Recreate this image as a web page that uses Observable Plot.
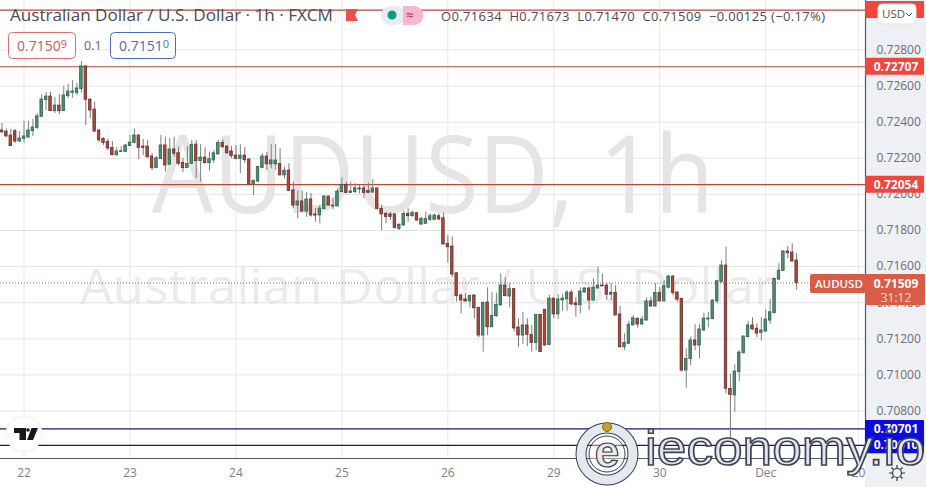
<!DOCTYPE html>
<html><head><meta charset="utf-8">
<script src="https://cdn.jsdelivr.net/npm/d3@7"></script>
<script src="https://cdn.jsdelivr.net/npm/@observablehq/plot@0.6"></script>
<style>
html,body{margin:0;padding:0;background:#fff;overflow:hidden}
#wrap{position:relative;width:926px;height:487px;overflow:hidden;font-family:"Open Sans",sans-serif}
#wrap>svg{position:absolute;left:0;top:0}
</style></head><body><div id="wrap"></div>
<script>
// hourly candles, oldest first; index 5 is the first bar of the 22nd
const opens=[.72354,.72348,.72326,.72350,.72293,.72306,.72315,.72350,.72367,.72428,
.72522,.72542,.72461,.72492,.72461,.72544,.72563,.72561,.72583,.72709,
.72524,.72470,.72354,.72306,.72291,.72258,.72217,.72234,.72234,.72267,
.72284,.72326,.72265,.72265,.72210,.72145,.72195,.72271,.72164,.72249,
.72228,.72175,.72145,.72169,.72276,.72184,.72204,.72173,.72188,.72221,
.72286,.72265,.72238,.72215,.72197,.72215,.72193,.72055,.72071,.72147,
.72210,.72166,.72166,.72169,.72105,.72132,.72022,.71938,.71961,.71905,
.71972,.71889,.71883,.71918,.71988,.71933,.71933,.72012,.72053,.72007,
.72012,.72027,.72033,.72018,.72010,.72033,.71920,.71892,.71889,.71889,
.71809,.71828,.71892,.71879,.71896,.71833,.71837,.71859,.71859,.71879,
.71868,.71726,.71711,.71563,.71440,.71418,.71407,.71440,.71372,.71218,
.71401,.71264,.71325,.71384,.71495,.71434,.71475,.71263,.71218,.71274,
.71222,.71176,.71333,.71361,.71165,.71423,.71335,.71412,.71419,.71456,
.71397,.71386,.71456,.71479,.71412,.71479,.71495,.71495,.71444,.71455,
.71335,.71153,.71172,.71274,.71311,.71279,.71301,.71407,.71379,.71455,
.71407,.71483,.71545,.71456,.71422,.71024,.71087,.71191,.71163,.71246,
.71307,.71309,.71407,.71514,.71606,.70923,.70886,.71015,.71120,.71209,
.71274,.71256,.71233,.71240,.71301,.71342,.71528,.71575,.71684,.71678,.71634];
const highs=[.72393,.72362,.72359,.72359,.72348,.72405,.72405,.72415,.72448,.72553,
.72565,.72565,.72538,.72553,.72598,.72609,.72631,.72616,.72735,.72712,
.72531,.72511,.72358,.72315,.72306,.72293,.72261,.72265,.72276,.72326,
.72363,.72330,.72304,.72299,.72227,.72210,.72326,.72317,.72310,.72317,
.72261,.72199,.72265,.72299,.72299,.72276,.72258,.72234,.72243,.72299,
.72302,.72271,.72265,.72271,.72276,.72260,.72199,.72081,.72155,.72225,
.72234,.72276,.72276,.72253,.72151,.72170,.72068,.72018,.72018,.72012,
.72005,.71922,.71938,.71994,.71992,.71977,.72031,.72092,.72068,.72068,
.72059,.72049,.72044,.72062,.72081,.72035,.71938,.71901,.71901,.71892,
.71837,.71907,.71920,.71907,.71901,.71874,.71901,.71892,.71892,.71892,
.71896,.71772,.71763,.71565,.71449,.71449,.71442,.71443,.71375,.71403,
.71483,.71458,.71453,.71560,.71538,.71505,.71479,.71311,.71347,.71311,
.71274,.71335,.71335,.71363,.71440,.71425,.71445,.71445,.71468,.71468,
.71430,.71483,.71483,.71483,.71532,.71597,.71560,.71505,.71505,.71495,
.71379,.71228,.71297,.71329,.71316,.71325,.71427,.71430,.71505,.71484,
.71523,.71551,.71551,.71462,.71424,.71145,.71209,.71278,.71278,.71342,
.71347,.71416,.71523,.71634,.71707,.71006,.71056,.71135,.71215,.71297,
.71316,.71283,.71316,.71361,.71418,.71536,.71616,.71686,.71711,.71726,.71673];
const lows=[.72337,.72315,.72265,.72282,.72287,.72282,.72310,.72321,.72359,.72426,
.72465,.72459,.72448,.72443,.72459,.72531,.72533,.72548,.72561,.72382,
.72420,.72344,.72287,.72271,.72243,.72214,.72210,.72232,.72232,.72265,
.72280,.72193,.72215,.72199,.72132,.72143,.72193,.72123,.72160,.72206,
.72160,.72121,.72143,.72166,.72088,.72068,.72169,.72128,.72171,.72219,
.72254,.72221,.72199,.72192,.72116,.72171,.72049,.71994,.72064,.72142,
.72132,.72142,.72132,.72103,.72086,.72016,.71920,.71865,.71901,.71874,
.71874,.71846,.71837,.71915,.71933,.71915,.71931,.72010,.72003,.72005,
.72005,.72003,.71976,.72005,.72005,.71915,.71800,.71837,.71855,.71809,
.71800,.71822,.71846,.71874,.71851,.71828,.71833,.71851,.71855,.71855,
.71721,.71619,.71538,.71403,.71338,.71403,.71372,.71311,.71206,.71126,
.71218,.71261,.71320,.71383,.71434,.71372,.71237,.71153,.71168,.71157,
.71126,.71135,.71124,.71159,.71161,.71311,.71307,.71353,.71353,.71384,
.71320,.71338,.71453,.71357,.71408,.71475,.71488,.71412,.71412,.71327,
.71150,.71135,.71168,.71272,.71259,.71275,.71299,.71375,.71375,.71401,
.71403,.71477,.71440,.71403,.71015,.70926,.71052,.71135,.71089,.71242,
.71261,.71305,.71394,.71508,.70895,.70640,.70793,.70963,.71117,.71205,
.71246,.71205,.71187,.71237,.71279,.71338,.71523,.71573,.71643,.71624,.71470];
const closes=[.72344,.72321,.72267,.72293,.72310,.72321,.72354,.72371,.72432,.72526,
.72542,.72461,.72492,.72461,.72548,.72570,.72570,.72587,.72709,.72524,
.72465,.72348,.72299,.72284,.72254,.72217,.72238,.72239,.72271,.72287,
.72326,.72258,.72258,.72206,.72145,.72200,.72271,.72160,.72249,.72225,
.72169,.72145,.72169,.72275,.72184,.72204,.72173,.72195,.72228,.72284,
.72261,.72228,.72212,.72197,.72215,.72189,.72055,.72075,.72151,.72210,
.72166,.72188,.72188,.72105,.72132,.72018,.71938,.71961,.71905,.71972,
.71883,.71883,.71922,.71988,.71938,.71938,.72016,.72053,.72007,.72016,
.72034,.72033,.72007,.72009,.72033,.71920,.71889,.71874,.71874,.71813,
.71832,.71892,.71879,.71898,.71855,.71863,.71863,.71879,.71883,.71861,
.71722,.71707,.71556,.71436,.71412,.71407,.71438,.71369,.71218,.71399,
.71264,.71327,.71388,.71495,.71436,.71475,.71257,.71218,.71274,.71222,
.71176,.71333,.71126,.71163,.71423,.71335,.71418,.71423,.71456,.71390,
.71386,.71462,.71479,.71412,.71483,.71495,.71490,.71444,.71455,.71329,
.71153,.71178,.71278,.71314,.71279,.71307,.71407,.71379,.71455,.71407,
.71491,.71545,.71453,.71418,.71024,.71089,.71191,.71163,.71252,.71312,
.71312,.71412,.71519,.71606,.70923,.70890,.71019,.71124,.71213,.71274,
.71252,.71229,.71246,.71307,.71347,.71532,.71578,.71684,.71674,.71628,.71509];

const priceTicks=[.728,.726,.724,.722,.72,.718,.716,.714,.712,.71,.708];
const dayTicks=[5,29,53,77,101,125,149,173,194];
const dayLabels=["22","23","24","25","26","29","30","Dec","20"];
const redLevels=[.73021,.72707,.72054];
const blueLevels=[.70701,.70610];
const lastClose=.71509;
const ohlcText="O0.71634  H0.71673  L0.71470  C0.71509  −0.00125 (−0.17%)";

const candles=opens.map((o,i)=>({i,o,h:highs[i],l:lows[i],c:closes[i]}));
const up="#4f8c72",down="#a64a3e";
const W=926,H=487,panel=61,bottom=29;

const wrap=document.getElementById("wrap");

// watermark + price panel sit behind the chart
const back=d3.create("svg").attr("width",W).attr("height",H);
back.append("rect").attr("x",W-panel).attr("y",0).attr("width",panel).attr("height",H).attr("fill","#eef0f4");
back.append("text").text("AUDUSD, 1h").attr("x",152).attr("y",213).attr("font-size",108).attr("fill","#e5e5e5")
 .attr("textLength",562).attr("lengthAdjust","spacingAndGlyphs");
back.append("text").text("Australian Dollar / U.S. Dollar").attr("x",80).attr("y",304).attr("font-size",49).attr("fill","#ebebeb")
 .attr("textLength",695).attr("lengthAdjust","spacingAndGlyphs");
wrap.append(back.node());

const chart=Plot.plot({
  width:W,height:H,marginLeft:0,marginTop:0,marginRight:panel,marginBottom:bottom,
  style:{background:"transparent",fontFamily:"'Open Sans',sans-serif",fontSize:"12px",color:"#6a6d78"},
  x:{type:"linear",domain:[-0.33,195.6],axis:null},
  y:{type:"linear",domain:[.70537,.73074],axis:null},
  marks:[
    Plot.ruleY(priceTicks,{stroke:"#e4e4e6",strokeWidth:1}),
    Plot.ruleX(dayTicks,{stroke:"#e8e8ea",strokeWidth:1}),
    Plot.ruleY([lastClose],{stroke:"#a8564a",strokeWidth:1,strokeDasharray:"1 2"}),
    Plot.ruleY(redLevels,{stroke:"#b5493c",strokeWidth:1.2}),
    Plot.ruleY(blueLevels,{stroke:"#1c1670",strokeWidth:1.2}),
    Plot.ruleX(candles,{x:"i",y1:"l",y2:"h",strokeWidth:1,stroke:d=>d.c>=d.o?"#71897d":"#8b726d"}),
    Plot.rect(candles,{x1:d=>d.i-.29,x2:d=>d.i+.29,y1:"o",y2:"c",
      fill:d=>d.c>=d.o?up:down,stroke:d=>d.c>=d.o?"#2c5a46":"#5e2a24",strokeWidth:.7}),
    Plot.axisY(priceTicks,{anchor:"right",tickSize:0,tickPadding:11,tickFormat:d3.format(".5f"),fill:"#6a6d78",label:null,fontSize:12}),
    Plot.axisX(dayTicks,{anchor:"bottom",tickSize:0,tickPadding:10,tickFormat:(d,i)=>dayLabels[i],fill:"#7d8088",label:null,fontSize:12}),
    Plot.ruleY([.70537],{stroke:"#55575e",strokeWidth:1.2}),
    Plot.ruleX([195.6],{y1:.73074,y2:.70537,stroke:"#55575e",strokeWidth:1.2})
  ]
});
wrap.append(chart);
const yS=chart.scale("y");

const over=d3.create("svg").attr("width",W).attr("height",H).style("font-family","'Open Sans',sans-serif");
const ink="#4a4c55";
// header
over.append("text").attr("x",10).attr("y",21).attr("font-size",16).attr("fill",ink)
 .attr("textLength",323).attr("lengthAdjust","spacingAndGlyphs").text("Australian Dollar / U.S. Dollar · 1h · FXCM");
over.append("path").attr("d","M346 9h12l-3 6 3 6h-12z").attr("fill","#f0504a");
over.append("rect").attr("x",381).attr("y",6).attr("width",24).attr("height",19).attr("rx",9).attr("fill","#e9edef");
over.append("circle").attr("cx",392).attr("cy",15).attr("r",4.5).attr("fill","#109a8c");
over.append("path").attr("d","M403 6h11a9.5 9.5 0 0 1 0 19h-11z").attr("fill","#f8b6cf");
over.append("text").attr("x",406).attr("y",20).attr("font-size",14).attr("fill","#b8235f").text("≈");
over.append("text").attr("x",441).attr("y",21).attr("font-size",13).attr("fill",ink)
 .style("white-space","pre").attr("textLength",384).attr("lengthAdjust","spacing").text(ohlcText);
// bid / ask boxes
[[8.5,67,"#d9736b","#cf5a52","0.7150","9",17],[110.5,65,"#4a70b4","#4a70b4","0.7151","0",119]].forEach(([x,w,s,f,t,sup,tx])=>{
  over.append("rect").attr("x",x).attr("y",32.5).attr("width",w).attr("height",26).attr("rx",4).attr("fill","#fff").attr("stroke",s);
  const e=over.append("text").attr("x",tx).attr("y",51).attr("font-size",14).attr("fill",f);
  e.append("tspan").text(t);
  e.append("tspan").attr("dy",-3).attr("font-size",11).text(sup);
});
over.append("text").attr("x",84).attr("y",50).attr("font-size",12.5).attr("fill","#666").text("0.1");

// level badges, placed through the y scale
function badge(v,fill){
  const yy=yS.apply(v);
  over.append("rect").attr("x",W-panel).attr("y",yy-8.5).attr("width",59).attr("height",17).attr("rx",1).attr("fill",fill);
}
function badgeText(v){
  over.append("text").attr("x",W-panel+31).attr("y",yS.apply(v)+4.5).attr("text-anchor","middle").attr("font-size",12).attr("font-weight",700)
   .attr("fill","#fff").text(d3.format(".5f")(v));
}
badge(redLevels[0],"#f2453d");
badge(redLevels[1],"#f2453d");badgeText(redLevels[1]);
badge(redLevels[2],"#f2453d");badgeText(redLevels[2]);
badge(blueLevels[0],"#0b0be6");badge(blueLevels[1],"#0b0be6");
badgeText(blueLevels[0]);badgeText(blueLevels[1]);

// last price tag
const ly=yS.apply(lastClose);
over.append("rect").attr("x",810).attr("y",ly-8.5).attr("width",56).attr("height",19).attr("rx",2).attr("fill","#d95c46");
over.append("rect").attr("x",W-panel).attr("y",ly-8.5).attr("width",60).attr("height",31).attr("rx",1).attr("fill","#d95c46");
over.append("text").attr("x",815).attr("y",ly+5).attr("font-size",11.5).attr("font-weight",600).attr("fill","#fff").text("AUDUSD");
over.append("text").attr("x",W-panel+31).attr("y",ly+5).attr("text-anchor","middle").attr("font-size",12).attr("font-weight",700).attr("fill","#fff").text(d3.format(".5f")(lastClose));
over.append("text").attr("x",W-panel+31).attr("y",ly+19).attr("text-anchor","middle").attr("font-size",12).attr("fill","#fbe3dd").text("31:12");

// currency button
over.append("rect").attr("x",878).attr("y",4).attr("width",38).attr("height",20).attr("rx",4).attr("fill","#fff").attr("stroke","#e2e4ea");
over.append("text").attr("x",882).attr("y",18).attr("font-size",11.5).attr("fill","#555").text("USD");
over.append("path").attr("d","M906 13l3 3 3-3").attr("fill","none").attr("stroke","#555");

// TradingView mark
over.append("circle").attr("cx",24).attr("cy",434).attr("r",18).attr("fill","#fff").attr("stroke","#efeff1");
over.append("path").attr("d","M14 428h12v12h-6.5v-7h-5.5zM31.5 428h6.500l-5 12h-6z").attr("fill","#131722");
over.append("circle").attr("cx",28).attr("cy",430).attr("r",1.8).attr("fill","#131722");

// settings gear
over.append("circle").attr("cx",897).attr("cy",473).attr("r",4.5).attr("fill","none").attr("stroke","#333").attr("stroke-width",1.2);
over.append("path").attr("d","M897 465v3M897 478v3M889 473h3M902 473h3M891.500 467.500l2 2M900.500 476.500l2 2M891.500 478.500l2-2M900.500 469.500l2-2").attr("stroke","#333").attr("stroke-width",1.2);

// ieconomy.io overlay
const g=over.append("g");
g.append("circle").attr("cx",607).attr("cy",454).attr("r",26).attr("fill","none").attr("stroke","#3c4048").attr("stroke-width",11);
g.append("circle").attr("cx",607).attr("cy",454).attr("r",26).attr("fill","none").attr("stroke","#e4e8f0").attr("stroke-width",9);
g.append("circle").attr("cx",607).attr("cy",454).attr("r",18).attr("fill","#fff").attr("fill-opacity",.4).attr("stroke","#3c4048").attr("stroke-width",1);
g.append("text").text("e").attr("x",607).attr("y",467).attr("text-anchor","middle").attr("font-size",44).attr("font-weight",700)
 .attr("fill","#e4e8f0").attr("stroke","#3c4048").attr("stroke-width",1.2).style("font-family","'Liberation Sans',sans-serif");
g.append("circle").attr("cx",607).attr("cy",427).attr("r",4.5).attr("fill","#c9a227").attr("stroke","#7d6a22");
g.append("text").text("ieconomy.io").attr("x",645).attr("y",465).attr("font-size",50)
 .attr("fill","#dfe5f1").attr("stroke","#3f4450").attr("stroke-width",1.6).attr("textLength",280).attr("lengthAdjust","spacingAndGlyphs")
 .style("font-family","'Liberation Sans',sans-serif");
wrap.append(over.node());
</script></body></html>
